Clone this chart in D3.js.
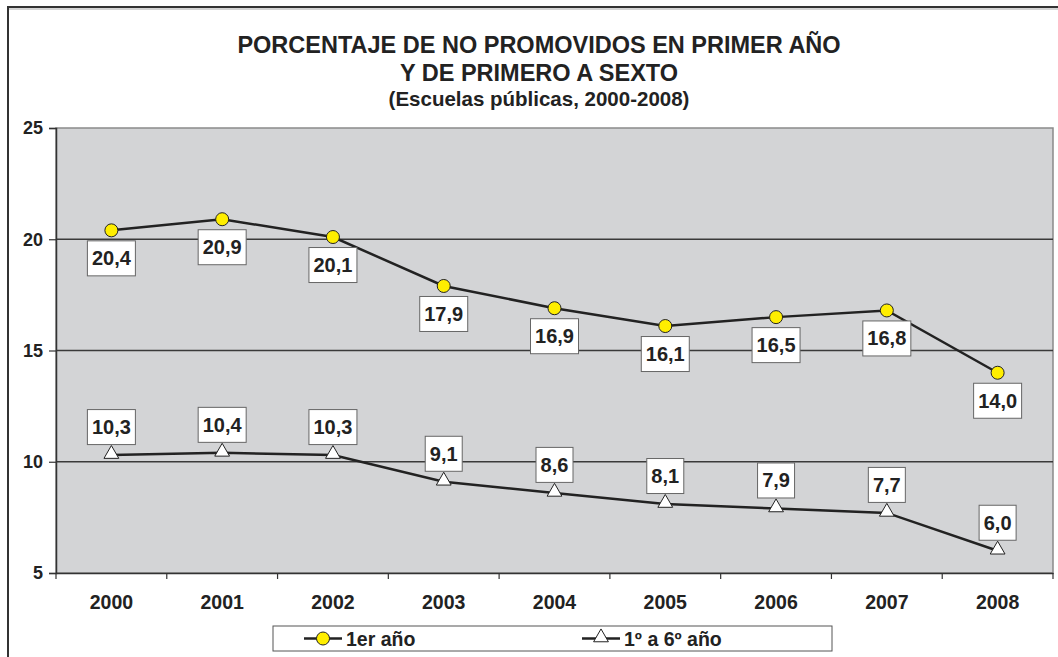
<!DOCTYPE html>
<html>
<head>
<meta charset="utf-8">
<script src="https://cdn.jsdelivr.net/npm/d3@7"></script>
<style>
  body { margin: 0; background: #fff; }
  svg { display: block; font-family: "Liberation Sans", Arial, sans-serif; }
</style>
</head>
<body>
<svg id="chart" width="1058" height="657"></svg>
<script>
const years = ["2000", "2001", "2002", "2003", "2004", "2005", "2006", "2007", "2008"];
const primerAno = [20.4, 20.9, 20.1, 17.9, 16.9, 16.1, 16.5, 16.8, 14.0];
const primeroSexto = [10.3, 10.4, 10.3, 9.1, 8.6, 8.1, 7.9, 7.7, 6.0];
const yTicks = [5, 10, 15, 20, 25];
const titleLines = ["PORCENTAJE DE NO PROMOVIDOS EN PRIMER AÑO", "Y DE PRIMERO A SEXTO"];
const subtitle = "(Escuelas públicas, 2000-2008)";
const legendNames = ["1er año", "1º a 6º año"];

const svg = d3.select("#chart");
const margin = { left: 56, top: 128, right: 1053, bottom: 573 };

// outer frame
svg.append("rect")
  .attr("x", 8).attr("y", 7)
  .attr("width", 1100).attr("height", 700)
  .attr("fill", "none").attr("stroke", "#333").attr("stroke-width", 2);
svg.append("line")
  .attr("x1", 9).attr("x2", 1058).attr("y1", 9).attr("y2", 9)
  .attr("stroke", "#aaa").attr("stroke-width", 1);

const x = d3.scaleBand().domain(years).range([margin.left, margin.right]);
const y = d3.scaleLinear().domain([5, 25]).range([margin.bottom, margin.top]);

// plot area
svg.append("rect")
  .attr("x", margin.left).attr("y", margin.top)
  .attr("width", margin.right - margin.left)
  .attr("height", margin.bottom - margin.top)
  .attr("fill", "#d3d4d6").attr("stroke", "#8a8a8a").attr("stroke-width", 1.5);

// gridlines
svg.append("g")
  .selectAll("line")
  .data(yTicks.filter((d) => d > 5 && d < 25))
  .join("line")
  .attr("x1", margin.left).attr("x2", margin.right)
  .attr("y1", (d) => y(d)).attr("y2", (d) => y(d))
  .attr("stroke", "#3a3a3a").attr("stroke-width", 1.3);

// axes
const yAxis = svg.append("g")
  .attr("transform", `translate(${margin.left},0)`)
  .call(d3.axisLeft(y).tickValues(yTicks).tickSize(7).tickPadding(6));
const xAxis = svg.append("g")
  .attr("transform", `translate(0,${margin.bottom})`)
  .call(d3.axisBottom(x).tickSize(0).tickPadding(30));
xAxis.selectAll(".tick").remove();
xAxis.append("g").selectAll("line")
  .data(d3.range(years.length + 1))
  .join("line")
  .attr("x1", (i) => margin.left + i * x.step())
  .attr("x2", (i) => margin.left + i * x.step())
  .attr("y1", 0).attr("y2", 6)
  .attr("stroke", "#333").attr("stroke-width", 1.2);
xAxis.append("g").selectAll("text")
  .data(years)
  .join("text")
  .attr("x", (d) => x(d) + x.bandwidth() / 2)
  .attr("y", 36)
  .attr("text-anchor", "middle")
  .attr("fill", "#222")
  .attr("font-size", 19.5).attr("font-weight", "bold")
  .text((d) => d);
[yAxis, xAxis].forEach((g) => {
  g.select(".domain").attr("stroke", "#333").attr("stroke-width", 1.5);
  g.selectAll(".tick line").attr("stroke", "#333").attr("stroke-width", 1.2);
  g.selectAll(".tick text")
    .attr("fill", "#222").attr("font-size", 18).attr("font-weight", "bold")
    .attr("font-family", "Liberation Sans, Arial, sans-serif");
});

// title
svg.append("g").selectAll("text")
  .data(titleLines)
  .join("text")
  .attr("x", 539).attr("y", (d, i) => 53 + i * 28)
  .attr("text-anchor", "middle")
  .attr("fill", "#222").attr("font-size", 23.5).attr("font-weight", "bold")
  .text((d) => d);
svg.append("text")
  .attr("x", 539).attr("y", 106)
  .attr("text-anchor", "middle")
  .attr("fill", "#222").attr("font-size", 20.5).attr("font-weight", "bold")
  .text(subtitle);

const cx = (i) => x(years[i]) + x.bandwidth() / 2;
const line = d3.line().x((d, i) => cx(i)).y((d) => y(d));

function drawLabels(values, offset) {
  const g = svg.append("g");
  values.forEach((v, i) => {
    const label = v.toFixed(1).replace(".", ",");
    const yc = y(v) + offset;
    const box = g.append("rect");
    const txt = g.append("text")
      .attr("x", cx(i)).attr("y", yc + 7)
      .attr("text-anchor", "middle")
      .attr("fill", "#222").attr("font-size", 20).attr("font-weight", "bold")
      .text(label);
    const w = Math.round(txt.node().getComputedTextLength()) + 9;
    const h = 35;
    box.attr("x", cx(i) - w / 2).attr("y", yc - h / 2)
      .attr("width", w).attr("height", h)
      .attr("fill", "#fff").attr("stroke", "#666").attr("stroke-width", 1);
  });
}

const tri = d3.symbol().type(d3.symbolTriangle).size(95);

// series lines
[primerAno, primeroSexto].forEach((vals) => {
  svg.append("path")
    .datum(vals)
    .attr("d", line)
    .attr("fill", "none").attr("stroke", "#222").attr("stroke-width", 2.5);
});

drawLabels(primerAno, 28);
drawLabels(primeroSexto, -28);

svg.append("g").selectAll("circle")
  .data(primerAno)
  .join("circle")
  .attr("cx", (d, i) => cx(i)).attr("cy", (d) => y(d))
  .attr("r", 6.5)
  .attr("fill", "#ffee00").attr("stroke", "#222").attr("stroke-width", 1);

svg.append("g").selectAll("path")
  .data(primeroSexto)
  .join("path")
  .attr("d", tri)
  .attr("transform", (d, i) => `translate(${cx(i)},${y(d) - 1})`)
  .attr("fill", "#fff").attr("stroke", "#222").attr("stroke-width", 1);

// legend
const legend = svg.append("g");
legend.append("rect")
  .attr("x", 273).attr("y", 626).attr("width", 559).attr("height", 25)
  .attr("fill", "#fff").attr("stroke", "#555").attr("stroke-width", 1);
const legendX = [304, 582];
legendNames.forEach((name, i) => {
  const lx = legendX[i];
  legend.append("line")
    .attr("x1", lx).attr("x2", lx + 38).attr("y1", 638.5).attr("y2", 638.5)
    .attr("stroke", "#222").attr("stroke-width", 2.5);
  if (i === 0) {
    legend.append("circle")
      .attr("cx", lx + 19).attr("cy", 638.5).attr("r", 6.5)
      .attr("fill", "#ffee00").attr("stroke", "#222").attr("stroke-width", 1);
  } else {
    legend.append("path")
      .attr("d", tri)
      .attr("transform", `translate(${lx + 19},${637.5})`)
      .attr("fill", "#fff").attr("stroke", "#222").attr("stroke-width", 1);
  }
  legend.append("text")
    .attr("x", lx + 42).attr("y", 646)
    .attr("fill", "#222").attr("font-size", 19.5).attr("font-weight", "bold")
    .text(name);
});
</script>
</body>
</html>
